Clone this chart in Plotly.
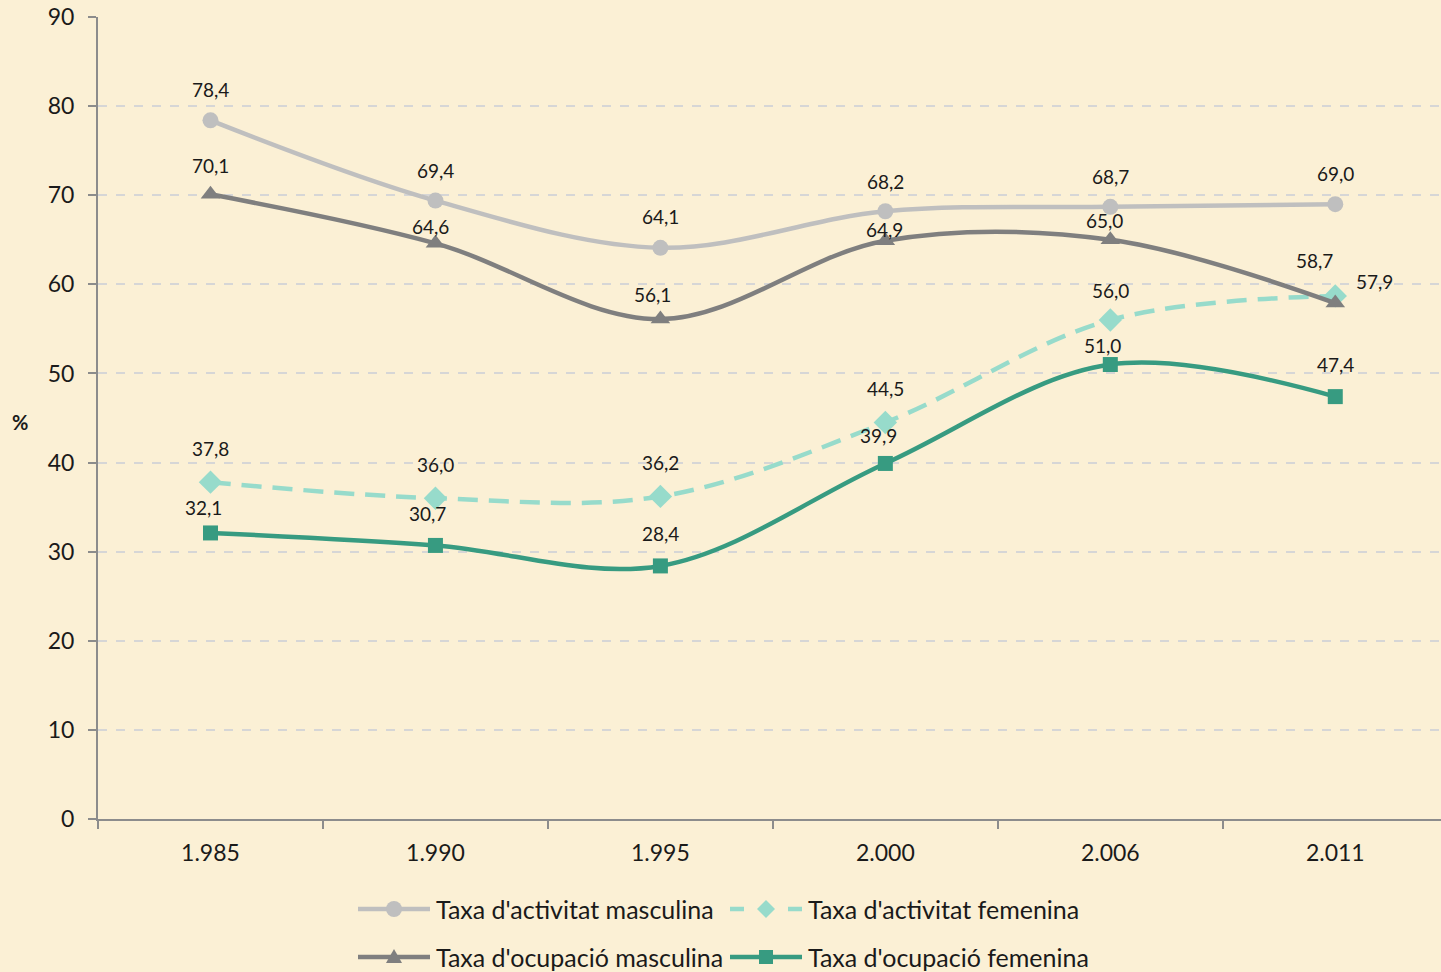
import plotly.graph_objects as go

years = ['1.985', '1.990', '1.995', '2.000', '2.006', '2.011']
activ_masc = [78.4, 69.4, 64.1, 68.2, 68.7, 69.0]
ocup_masc = [70.1, 64.6, 56.1, 64.9, 65.0, 57.9]
activ_fem = [37.8, 36.0, 36.2, 44.5, 56.0, 58.7]
ocup_fem = [32.1, 30.7, 28.4, 39.9, 51.0, 47.4]

names = ["Taxa d'activitat masculina", "Taxa d'activitat femenina",
         "Taxa d'ocupació masculina", "Taxa d'ocupació femenina"]

BG = '#FBF0D5'
FONT = 'Lato'

# plot area in pixels
L, T, W, H = 98, 17, 1343, 802

series = [
    dict(y=activ_masc, name=names[0], color='#BFBFBF', symbol='circle', size=16, dash='solid',
         shifts=[(0, 31), (0, 30), (0, 31), (0, 30), (0, 30), (0, 31)]),
    dict(y=activ_fem, name=names[1], color='#97DBCB', symbol='diamond', size=18, dash='20px,11px',
         shifts=[(0, 34), (0, 34), (0, 34), (0, 34), (0, 29), (-21, 35)]),
    dict(y=ocup_masc, name=names[2], color='#7F7F7F', symbol='triangle-up', size=17, dash='solid',
         shifts=[(0, 29), (-5, 17), (-8, 25), (-1, 11), (-6, 19), (39, 22)]),
    dict(y=ocup_fem, name=names[3], color='#379B81', symbol='square', size=15, dash='solid',
         shifts=[(-7, 25), (-8, 32), (0, 32), (-7, 28), (-8, 19), (0, 32)]),
]

fig = go.Figure()
annotations = []
for s in series:
    fig.add_trace(go.Scatter(
        x=years, y=s['y'], name=s['name'], mode='lines+markers',
        line=dict(color=s['color'], width=4.5, shape='spline', dash=s['dash']),
        marker=dict(color=s['color'], symbol=s['symbol'], size=s['size']),
        showlegend=False))
    for i, (v, (dx, dy)) in enumerate(zip(s['y'], s['shifts'])):
        annotations.append(dict(
            x=i, y=v, xref='x', yref='y', text=f'{v:.1f}'.replace('.', ','),
            showarrow=False, xshift=dx, yshift=dy,
            font=dict(family=FONT, size=19, color='#1a1a1a')))

# y axis title
annotations.append(dict(x=(20 - L) / W, y=(819 - 422) / H, xref='paper', yref='paper',
                        xanchor='center',
                        text='<b>%</b>', showarrow=False, font=dict(family=FONT, size=20, color='#1a1a1a')))

# custom legend (Excel-style long symbols)
shapes = []
legend_items = [(358, 909), (730, 909), (358, 957), (730, 957)]
for s, (px, py) in zip(series, legend_items):
    yp = (819 - py) / H
    x0 = (px - L) / W
    x1 = (px + 72 - L) / W
    xm = (px + 36 - L) / W
    if s['dash'] == 'solid':
        shapes.append(dict(type='line', xref='paper', yref='paper', x0=x0, x1=x1, y0=yp, y1=yp,
                           line=dict(color=s['color'], width=4.5)))
    else:
        for a, b in [(px, px + 14), (px + 58, px + 72)]:
            shapes.append(dict(type='line', xref='paper', yref='paper',
                               x0=(a - L) / W, x1=(b - L) / W, y0=yp, y1=yp,
                               line=dict(color=s['color'], width=4.5)))
    if s['symbol'] == 'circle':
        shapes.append(dict(type='circle', xref='paper', yref='paper', xsizemode='pixel', ysizemode='pixel',
                           xanchor=xm, yanchor=yp, x0=-8, x1=8, y0=-8, y1=8, fillcolor=s['color'],
                           line=dict(color=s['color'], width=0)))
    else:
        if s['symbol'] == 'diamond':
            path = 'M 0 -9 L 9 0 L 0 9 L -9 0 Z'
        elif s['symbol'] == 'triangle-up':
            path = 'M -8 -6 L 8 -6 L 0 8 Z'
        else:
            path = 'M -7 -7 L 7 -7 L 7 7 L -7 7 Z'
        shapes.append(dict(type='path', xref='paper', yref='paper', xsizemode='pixel', ysizemode='pixel',
                           xanchor=xm, yanchor=yp, path=path, fillcolor=s['color'],
                           line=dict(color=s['color'], width=0)))
    annotations.append(dict(x=(px + 76 - L) / W, y=yp, xref='paper', yref='paper', xanchor='left',
                            yanchor='middle', text=s['name'], showarrow=False,
                            font=dict(family=FONT, size=25, color='#1a1a1a')))

fig.update_layout(
    width=1441, height=972,
    margin=dict(l=L, r=0, t=T, b=972 - T - H),
    paper_bgcolor=BG, plot_bgcolor=BG,
    font=dict(family=FONT, size=22, color='#1a1a1a'),
    showlegend=False,
    annotations=annotations,
    shapes=shapes,
    xaxis=dict(type='category', range=[-0.5, 5.47], showgrid=False,
               showline=True, linecolor='#8C8C8C', linewidth=2,
               ticks='outside', tickson='boundaries', ticklen=8, tickcolor='#8C8C8C', tickwidth=2,
               ticklabelstandoff=12, tickfont=dict(family=FONT, size=23)),
    yaxis=dict(range=[0, 90], dtick=10, showgrid=True, gridcolor='#D6D6D6', griddash='dash', gridwidth=1.5,
               showline=True, linecolor='#8C8C8C', linewidth=2, zeroline=False,
               ticks='outside', ticklen=8, tickcolor='#8C8C8C', tickwidth=2,
               ticklabelstandoff=9, tickfont=dict(family=FONT, size=23)),
)

fig.write_html('out.html', config={'displayModeBar': False},
               post_script="document.body.style.margin='0';document.body.style.background='" + BG + "';")
